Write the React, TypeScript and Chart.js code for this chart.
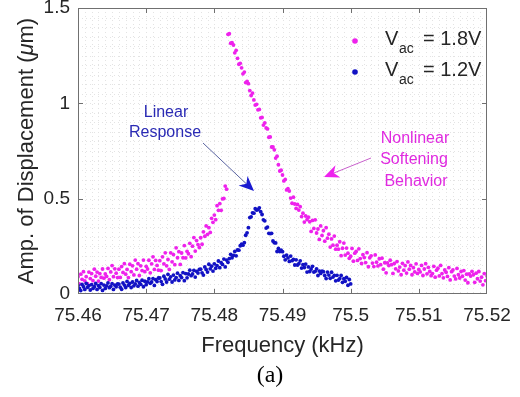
import React, { useEffect, useRef } from 'react';
import { Chart, registerables } from 'chart.js';

Chart.register(...registerables);

// Frequency sweep points (kHz), shared by both drive levels
const sweepFreqKHz = [
  75.4600,75.4602,75.4604,75.4606,75.4608,75.4610,75.4612,75.4614,75.4616,75.4618,
  75.4620,75.4622,75.4624,75.4626,75.4628,75.4630,75.4632,75.4634,75.4636,75.4638,
  75.4640,75.4642,75.4644,75.4646,75.4648,75.4650,75.4652,75.4654,75.4656,75.4658,
  75.4660,75.4662,75.4664,75.4666,75.4668,75.4670,75.4672,75.4674,75.4676,75.4678,
  75.4680,75.4682,75.4684,75.4686,75.4688,75.4690,75.4692,75.4694,75.4696,75.4698,
  75.4700,75.4702,75.4704,75.4706,75.4708,75.4710,75.4712,75.4714,75.4716,75.4718,
  75.4720,75.4722,75.4724,75.4726,75.4728,75.4730,75.4732,75.4734,75.4736,75.4738,
  75.4740,75.4742,75.4744,75.4746,75.4748,75.4750,75.4752,75.4754,75.4756,75.4758,
  75.4760,75.4762,75.4764,75.4766,75.4768,75.4770,75.4772,75.4774,75.4776,75.4778,
  75.4780,75.4782,75.4784,75.4786,75.4788,75.4790,75.4792,75.4794,75.4796,75.4798,
  75.4800,75.4802,75.4804,75.4806,75.4808,75.4810,75.4812,75.4814,75.4816,75.4818,
  75.4820,75.4822,75.4824,75.4826,75.4828,75.4830,75.4832,75.4834,75.4836,75.4838,
  75.4840,75.4842,75.4844,75.4846,75.4848,75.4850,75.4852,75.4854,75.4856,75.4858,
  75.4860,75.4862,75.4864,75.4866,75.4868,75.4870,75.4872,75.4874,75.4876,75.4878,
  75.4880,75.4882,75.4884,75.4886,75.4888,75.4890,75.4892,75.4894,75.4896,75.4898,
  75.4900,75.4902,75.4904,75.4906,75.4908,75.4910,75.4912,75.4914,75.4916,75.4918,
  75.4920,75.4922,75.4924,75.4926,75.4928,75.4930,75.4932,75.4934,75.4936,75.4938,
  75.4940,75.4942,75.4944,75.4946,75.4948,75.4950,75.4952,75.4954,75.4956,75.4958,
  75.4960,75.4962,75.4964,75.4966,75.4968,75.4970,75.4972,75.4974,75.4976,75.4978,
  75.4980,75.4982,75.4984,75.4986,75.4988,75.4990,75.4992,75.4994,75.4996,75.4998,
  75.5000,75.5002,75.5004,75.5006,75.5008,75.5010,75.5012,75.5014,75.5016,75.5018,
  75.5020,75.5022,75.5024,75.5026,75.5028,75.5030,75.5032,75.5034,75.5036,75.5038,
  75.5040,75.5042,75.5044,75.5046,75.5048,75.5050,75.5052,75.5054,75.5056,75.5058,
  75.5060,75.5062,75.5064,75.5066,75.5068,75.5070,75.5072,75.5074,75.5076,75.5078,
  75.5080,75.5082,75.5084,75.5086,75.5088,75.5090,75.5092,75.5094,75.5096,75.5098,
  75.5100,75.5102,75.5104,75.5106,75.5108,75.5110,75.5112,75.5114,75.5116,75.5118,
  75.5120,75.5122,75.5124,75.5126,75.5128,75.5130,75.5132,75.5134,75.5136,75.5138,
  75.5140,75.5142,75.5144,75.5146,75.5148,75.5150,75.5152,75.5154,75.5156,75.5158,
  75.5160,75.5162,75.5164,75.5166,75.5168,75.5170,75.5172,75.5174,75.5176,75.5178,
  75.5180,75.5182,75.5184,75.5186,75.5188,75.5190,75.5192,75.5194,75.5196,75.5198,
  75.5200,
];

// Amplitude (um) at Vac = 1.8V (lower branch up to jump, then upper branch)
const ampVac18 = [
  0.091,0.053,0.104,0.077,0.117,0.069,0.091,0.054,0.115,0.081,
  0.107,0.070,0.130,0.093,0.115,0.068,0.107,0.087,0.131,0.083,
  0.105,0.092,0.134,0.075,0.116,0.149,0.091,0.132,0.109,0.086,
  0.130,0.087,0.144,0.113,0.159,0.104,0.129,0.086,0.156,0.117,
  0.148,0.100,0.178,0.130,0.159,0.097,0.148,0.123,0.178,0.117,
  0.145,0.131,0.177,0.111,0.158,0.195,0.129,0.176,0.150,0.125,
  0.175,0.123,0.195,0.158,0.216,0.148,0.181,0.129,0.216,0.169,
  0.207,0.154,0.242,0.190,0.222,0.155,0.215,0.190,0.254,0.189,
  0.224,0.211,0.266,0.196,0.251,0.296,0.225,0.280,0.259,0.244,
  0.295,0.261,0.326,0.303,0.357,0.313,0.348,0.323,0.397,0.376,
  0.414,0.390,0.463,0.439,0.474,0.439,0.499,0.501,0.566,0.550,
  1.362,1.365,1.315,1.318,1.306,1.265,1.278,1.236,1.205,1.210,
  1.186,1.155,1.164,1.109,1.115,1.103,1.067,1.041,1.054,1.018,
  0.991,0.995,0.966,0.968,0.924,0.926,0.886,0.897,0.871,0.866,
  0.822,0.824,0.771,0.771,0.756,0.713,0.723,0.678,0.645,0.649,
  0.624,0.593,0.601,0.546,0.552,0.540,0.503,0.476,0.508,0.472,
  0.449,0.470,0.440,0.458,0.406,0.424,0.377,0.409,0.390,0.403,
  0.379,0.328,0.386,0.344,0.389,0.320,0.341,0.286,0.357,0.307,
  0.332,0.277,0.348,0.293,0.314,0.246,0.289,0.256,0.304,0.235,
  0.256,0.235,0.274,0.201,0.240,0.267,0.204,0.241,0.214,0.187,
  0.198,0.239,0.172,0.214,0.223,0.176,0.237,0.186,0.160,0.206,
  0.191,0.165,0.217,0.143,0.190,0.200,0.162,0.144,0.205,0.167,
  0.147,0.185,0.154,0.188,0.130,0.164,0.111,0.163,0.149,0.177,
  0.154,0.108,0.160,0.132,0.170,0.121,0.141,0.101,0.161,0.125,
  0.149,0.110,0.168,0.130,0.150,0.101,0.138,0.116,0.158,0.108,
  0.129,0.116,0.150,0.097,0.131,0.159,0.106,0.140,0.118,0.096,
  0.107,0.145,0.088,0.125,0.135,0.095,0.150,0.107,0.085,0.126,
  0.114,0.092,0.138,0.074,0.117,0.126,0.094,0.079,0.134,0.101,
  0.084,0.118,0.093,0.123,0.073,0.104,0.059,0.105,0.094,0.119,
  0.101,0.061,0.109,0.080,0.118,0.068,0.088,0.048,0.107,0.070,
  0.094,
];

// Amplitude (um) at Vac = 1.2V (sweep 75.46 - 75.50 kHz)
const ampVac12 = [
  0.045,0.029,0.018,0.050,0.038,0.024,0.055,0.035,0.044,0.021,
  0.049,0.029,0.038,0.055,0.024,0.044,0.034,0.054,0.019,0.047,
  0.029,0.043,0.058,0.033,0.040,0.054,0.024,0.047,0.038,0.053,
  0.052,0.036,0.025,0.058,0.047,0.034,0.066,0.046,0.056,0.034,
  0.063,0.043,0.053,0.071,0.041,0.060,0.051,0.072,0.038,0.067,
  0.049,0.064,0.080,0.056,0.063,0.081,0.045,0.075,0.065,0.084,
  0.084,0.065,0.051,0.093,0.079,0.063,0.103,0.078,0.090,0.063,
  0.099,0.074,0.086,0.109,0.071,0.096,0.086,0.112,0.070,0.107,
  0.085,0.105,0.125,0.096,0.105,0.124,0.089,0.119,0.110,0.129,
  0.130,0.111,0.099,0.142,0.129,0.115,0.156,0.132,0.146,0.120,
  0.158,0.135,0.149,0.173,0.138,0.164,0.155,0.183,0.142,0.178,
  0.166,0.186,0.208,0.190,0.203,0.223,0.200,0.231,0.230,0.253,
  0.261,0.256,0.269,0.308,0.321,0.348,0.401,0.405,0.426,0.424,
  0.447,0.440,0.443,0.452,0.432,0.417,0.389,0.384,0.346,0.351,
  0.318,0.317,0.318,0.278,0.269,0.268,0.223,0.239,0.223,0.230,
  0.222,0.198,0.179,0.204,0.189,0.171,0.199,0.175,0.181,0.152,
  0.179,0.152,0.159,0.174,0.136,0.154,0.139,0.157,0.115,0.142,
  0.118,0.131,0.145,0.115,0.119,0.132,0.097,0.120,0.108,0.120,
  0.117,0.097,0.081,0.115,0.099,0.082,0.114,0.089,0.097,0.069,
  0.098,0.073,0.081,0.097,0.061,0.080,0.067,0.087,0.046,0.076,
  0.053,
];

const seriesNames = ['1.8V', '1.2V'];
const seriesColors = ['#ee22ec', '#1212c4'];

const X_MIN = 75.46;
const X_MAX = 75.52;
const X_MAJOR = 0.01;
const X_MINOR = 0.001;
const Y_MIN = 0;
const Y_MAX = 1.5;
const Y_MAJOR = 0.5;
const Y_MINOR = 0.05;

const FONT = '"Liberation Sans", Arial, Helvetica, sans-serif';
const TEXT = '#262626';

function drawArrow(ctx: CanvasRenderingContext2D, x0: number, y0: number, x1: number, y1: number, lineColor: string, headColor: string) {
  const dx = x1 - x0, dy = y1 - y0;
  const len = Math.hypot(dx, dy);
  const ux = dx / len, uy = dy / len;
  const px = -uy, py = ux;
  const hl = 15, hw = 6.5;
  ctx.save();
  ctx.strokeStyle = lineColor;
  ctx.lineWidth = 1;
  ctx.beginPath();
  ctx.moveTo(x0, y0);
  ctx.lineTo(x1 - ux * hl * 0.7, y1 - uy * hl * 0.7);
  ctx.stroke();
  ctx.fillStyle = headColor;
  ctx.beginPath();
  ctx.moveTo(x1, y1);
  ctx.lineTo(x1 - ux * hl + px * hw, y1 - uy * hl + py * hw);
  ctx.lineTo(x1 - ux * hl * 0.7, y1 - uy * hl * 0.7);
  ctx.lineTo(x1 - ux * hl - px * hw, y1 - uy * hl - py * hw);
  ctx.closePath();
  ctx.fill();
  ctx.restore();
}

const decorPlugin = {
  id: 'decor',
  beforeDatasetsDraw(chart: any) {
    const { ctx, chartArea: a, scales } = chart;
    const xs = scales.x, ys = scales.y;
    ctx.save();
    ctx.strokeStyle = '#e3e3e3';
    ctx.lineWidth = 1;
    ctx.setLineDash([1, 3]);
    const nx = Math.round((X_MAX - X_MIN) / X_MINOR);
    for (let k = 1; k < nx; k++) {
      const px = Math.round(xs.getPixelForValue(X_MIN + k * X_MINOR)) + 0.5;
      ctx.beginPath();
      ctx.moveTo(px, a.top);
      ctx.lineTo(px, a.bottom);
      ctx.stroke();
    }
    const ny = Math.round((Y_MAX - Y_MIN) / Y_MINOR);
    for (let k = 1; k < ny; k++) {
      const py = Math.round(ys.getPixelForValue(Y_MIN + k * Y_MINOR)) + 0.5;
      ctx.beginPath();
      ctx.moveTo(a.left, py);
      ctx.lineTo(a.right, py);
      ctx.stroke();
    }
    ctx.restore();
  },
  afterDatasetsDraw(chart: any) {
    const { ctx, chartArea: a, scales } = chart;
    const xs = scales.x, ys = scales.y;
    ctx.save();
    // frame
    ctx.strokeStyle = '#707070';
    ctx.lineWidth = 1;
    ctx.strokeRect(Math.round(a.left) + 0.5, Math.round(a.top) + 0.5, Math.round(a.right - a.left) - 1, Math.round(a.bottom - a.top) - 1);
    // inner ticks
    const tl = 5;
    const nxm = Math.round((X_MAX - X_MIN) / X_MAJOR);
    for (let k = 1; k < nxm; k++) {
      const px = Math.round(xs.getPixelForValue(X_MIN + k * X_MAJOR)) + 0.5;
      ctx.beginPath();
      ctx.moveTo(px, a.bottom);
      ctx.lineTo(px, a.bottom - tl);
      ctx.moveTo(px, a.top);
      ctx.lineTo(px, a.top + tl);
      ctx.stroke();
    }
    const nym = Math.round((Y_MAX - Y_MIN) / Y_MAJOR);
    for (let k = 1; k < nym; k++) {
      const py = Math.round(ys.getPixelForValue(Y_MIN + k * Y_MAJOR)) + 0.5;
      ctx.beginPath();
      ctx.moveTo(a.left, py);
      ctx.lineTo(a.left + tl, py);
      ctx.moveTo(a.right, py);
      ctx.lineTo(a.right - tl, py);
      ctx.stroke();
    }

    // legend
    const lx = a.right - 132;
    const rows = [a.top + 33, a.top + 64];
    seriesNames.forEach((name, i) => {
      const cy = rows[i];
      ctx.fillStyle = seriesColors[i];
      ctx.beginPath();
      ctx.arc(lx, cy, 2.8, 0, Math.PI * 2);
      ctx.fill();
      ctx.fillStyle = TEXT;
      ctx.textAlign = 'left';
      ctx.textBaseline = 'alphabetic';
      ctx.font = `20px ${FONT}`;
      ctx.fillText('V', lx + 30, cy + 4);
      ctx.font = `14px ${FONT}`;
      ctx.fillText('ac', lx + 44, cy + 12);
      ctx.font = `20px ${FONT}`;
      ctx.fillText('= ' + name, lx + 68, cy + 4);
    });

    // annotations
    ctx.textAlign = 'center';
    ctx.textBaseline = 'alphabetic';
    ctx.font = `16px ${FONT}`;
    ctx.fillStyle = '#2a2ab4';
    ctx.fillText('Linear', 166, 117);
    ctx.fillText('Response', 165, 137);
    drawArrow(ctx, 203, 143, 254, 191, '#5a64a0', '#1a1ad0');

    ctx.fillStyle = '#e02ae0';
    ctx.fillText('Nonlinear', 415, 143);
    ctx.fillText('Softening', 414, 164);
    ctx.fillText('Behavior', 416, 186);
    drawArrow(ctx, 371, 158, 324, 177, '#c860cc', '#ee22ee');

    // axis titles
    ctx.fillStyle = TEXT;
    ctx.font = `22px ${FONT}`;
    ctx.textAlign = 'center';
    ctx.fillText('Frequency (kHz)', (a.left + a.right) / 2, 352);

    // y title with italic mu
    const p1 = 'Amp. of Displacement (';
    const p2 = '\u03bc';
    const p3 = 'm)';
    ctx.font = `22px ${FONT}`;
    const w1 = ctx.measureText(p1).width;
    const w3 = ctx.measureText(p3).width;
    ctx.font = `italic 22px ${FONT}`;
    const w2 = ctx.measureText(p2).width;
    const total = w1 + w2 + w3;
    ctx.save();
    ctx.translate(33, (a.top + a.bottom) / 2);
    ctx.rotate(-Math.PI / 2);
    ctx.textAlign = 'left';
    ctx.font = `22px ${FONT}`;
    ctx.fillText(p1, -total / 2, 0);
    ctx.font = `italic 22px ${FONT}`;
    ctx.fillText(p2, -total / 2 + w1, 0);
    ctx.font = `22px ${FONT}`;
    ctx.fillText(p3, -total / 2 + w1 + w2, 0);
    ctx.restore();

    // caption
    ctx.fillStyle = '#000';
    ctx.font = '24px "Liberation Serif", "Times New Roman", serif';
    ctx.textAlign = 'center';
    ctx.fillText('(a)', 270, 382);
    ctx.restore();
  },
};

export default function App() {
  const canvasRef = useRef<HTMLCanvasElement | null>(null);

  useEffect(() => {
    const canvas = canvasRef.current;
    if (!canvas) return;
    const d18 = sweepFreqKHz.slice(0, ampVac18.length).map((f, i) => ({ x: f, y: ampVac18[i] }));
    const d12 = sweepFreqKHz.slice(0, ampVac12.length).map((f, i) => ({ x: f, y: ampVac12[i] }));
    const chart = new Chart(canvas, {
      type: 'scatter',
      data: {
        datasets: [
          {
            label: 'Vac = ' + seriesNames[0],
            data: d18,
            backgroundColor: seriesColors[0],
            borderWidth: 0,
            pointRadius: 1.9,
            order: 1,
          },
          {
            label: 'Vac = ' + seriesNames[1],
            data: d12,
            backgroundColor: seriesColors[1],
            borderWidth: 0,
            pointRadius: 1.9,
            order: 0,
          },
        ],
      },
      options: {
        responsive: false,
        animation: false,
        devicePixelRatio: 1,
        layout: { padding: { top: 8, right: 33, left: 0, bottom: 0 } },
        plugins: { legend: { display: false }, tooltip: { enabled: false } },
        scales: {
          x: {
            type: 'linear',
            min: X_MIN,
            max: X_MAX,
            grid: { display: false, drawTicks: false },
            border: { display: false },
            ticks: {
              stepSize: X_MAJOR,
              padding: 10,
              color: TEXT,
              font: { family: FONT, size: 19 },
              maxRotation: 0,
              autoSkip: false,
              callback: (v: any) => String(Number(Number(v).toFixed(2))),
            },
            afterFit: (s: any) => {
              s.height = 103;
              s.paddingLeft = 0;
              s.paddingRight = 0;
            },
          },
          y: {
            type: 'linear',
            min: Y_MIN,
            max: Y_MAX,
            grid: { display: false, drawTicks: false },
            border: { display: false },
            ticks: {
              stepSize: Y_MAJOR,
              padding: 8,
              color: TEXT,
              font: { family: FONT, size: 19 },
              callback: (v: any) => String(Number(Number(v).toFixed(2))),
            },
            afterFit: (s: any) => {
              s.width = 78;
              s.paddingTop = 0;
              s.paddingBottom = 0;
            },
          },
        },
      },
      plugins: [decorPlugin],
    });
    return () => chart.destroy();
  }, []);

  return (
    <div style={{ position: 'fixed', left: 0, top: 0, width: 520, height: 397, background: '#fff' }}>
      <canvas ref={canvasRef} width={520} height={397} style={{ width: 520, height: 397, display: 'block' }} />
    </div>
  );
}
